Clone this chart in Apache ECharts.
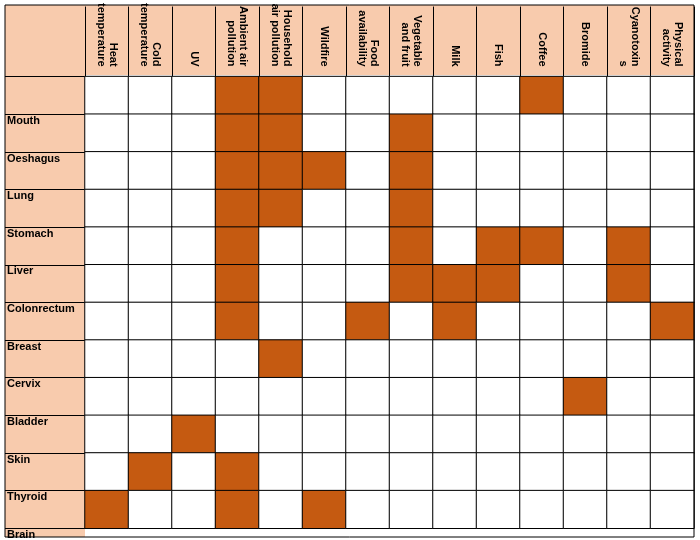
<!DOCTYPE html>
<html>
<head>
<meta charset="utf-8">
<script src="https://cdn.jsdelivr.net/npm/echarts@6/dist/echarts.min.js"></script>
<style>html,body{margin:0;padding:0;background:#fff}#main{width:700px;height:540px}</style>
</head>
<body>
<div id="main"></div>
<script>
var factors = ['Heat\ntemperature', 'Cold\ntemperature', 'UV', 'Ambient air\npollution', 'Household\nair pollution',
    'Wildfire', 'Food\navailability', 'Vegetable\nand fruit', 'Milk', 'Fish', 'Coffee', 'Bromide', 'Cyanotoxin\ns', 'Physical\nactivity'];
var cancers = ['Mouth', 'Oeshagus', 'Lung', 'Stomach', 'Liver', 'Colonrectum', 'Breast', 'Cervix', 'Bladder', 'Skin', 'Thyroid', 'Brain'];
// indexes of factors linked to each cancer
var links = [
    [3, 4, 10],
    [3, 4, 7],
    [3, 4, 5, 7],
    [3, 4, 7],
    [3, 7, 9, 10, 12],
    [3, 7, 8, 9, 12],
    [3, 6, 8, 13],
    [4],
    [11],
    [2],
    [1, 3],
    [0, 3, 5]
];

var data = [];
for (var r = 0; r < cancers.length; r++) {
    for (var c = 0; c < factors.length; c++) {
        data.push([c, r, links[r].indexOf(c) >= 0 ? 1 : 0]);
    }
}

var myChart = echarts.init(document.getElementById('main'));
var option = {
    backgroundColor: '#fff',
    graphic: [
        {type: 'rect', z: -10, shape: {x: 5, y: 5, width: 689, height: 70}, style: {fill: '#F8CBAD'}},
        {type: 'rect', z: -10, shape: {x: 5, y: 5, width: 80, height: 532}, style: {fill: '#F8CBAD'}},
        {type: 'rect', z: 100, shape: {x: 5, y: 5, width: 689, height: 532}, style: {fill: 'none', stroke: '#000', lineWidth: 1}}
    ],
    grid: {left: 85, top: 75, right: 6, bottom: 3},
    xAxis: {
        type: 'category',
        position: 'top',
        data: factors,
        axisLine: {show: false},
        axisTick: {show: true, length: 70, lineStyle: {color: '#000'}},
        axisLabel: {
            rotate: 90, margin: 10, interval: 0,
            fontFamily: 'Liberation Sans', fontWeight: 'bold', fontSize: 11, color: '#000', lineHeight: 12
        },
        splitLine: {show: false}
    },
    yAxis: {
        type: 'category',
        inverse: true,
        data: cancers,
        axisLine: {show: false},
        axisTick: {show: true, length: 80, lineStyle: {color: '#000'}},
        axisLabel: {
            margin: 78, align: 'left', verticalAlign: 'top', padding: [20, 0, 0, 0], interval: 0,
            fontFamily: 'Liberation Sans', fontWeight: 'bold', fontSize: 11, color: '#000'
        }
    },
    visualMap: {
        show: false, type: 'piecewise',
        pieces: [{value: 0, color: '#FFFFFF'}, {value: 1, color: '#C55A11'}]
    },
    series: [{
        type: 'heatmap',
        data: data,
        itemStyle: {borderColor: '#000', borderWidth: 1}
    }]
};
myChart.setOption(option);
</script>
</body>
</html>
